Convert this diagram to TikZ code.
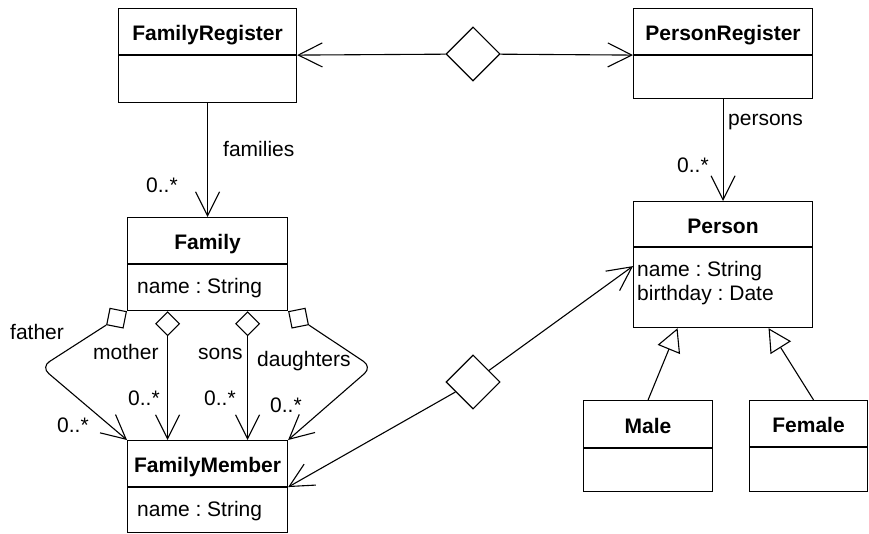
\documentclass[tikz,border=0pt]{standalone}
\usepackage{fontspec}
\setmainfont{Liberation Sans}
\frenchspacing
\usetikzlibrary{arrows.meta,shapes.geometric,calc}
\begin{document}
\begin{tikzpicture}[x=1pt,y=-1pt,
  every node/.style={font=\fontsize{21}{25}\selectfont},
  hd/.style={draw, line width=1.1pt, inner sep=0pt, text height=18pt, text depth=0pt,
             font=\fontsize{21}{25}\selectfont\bfseries},
  bd/.style={draw, line width=1.1pt, inner sep=0pt},
  lbl/.style={anchor=base west, inner sep=0pt},
  link/.style={line width=1.1pt},
  nav/.style={link, -{Straight Barb[length=24pt,width=24pt]}},
  gen/.style={link, -{Triangle[open,length=23pt,width=24pt,fill=white]}},
  bigdia/.style={diamond, draw, line width=1.1pt, fill=white, inner sep=0pt,
                 minimum width=54pt, minimum height=54pt},
  smalldia/.style={diamond, draw, line width=1.1pt, fill=white, inner sep=0pt,
                   minimum width=24pt, minimum height=24pt}
]
\useasboundingbox (0,0) rectangle (869,534);

% ---------- classes ----------
\node[hd, minimum width=178pt, minimum height=46pt, anchor=north west] (frH) at (118,8) {FamilyRegister};
\node[bd, minimum width=178pt, minimum height=47pt, anchor=north] (frB) at (frH.south) {};

\node[hd, minimum width=179pt, minimum height=46pt, anchor=north west] (prH) at (633,8) {PersonRegister};
\node[bd, minimum width=179pt, minimum height=43pt, anchor=north] (prB) at (prH.south) {};

\node[hd, minimum width=160pt, minimum height=46pt, anchor=north west] (famH) at (127,217) {Family};
\node[bd, minimum width=160pt, minimum height=46pt, anchor=north] (famB) at (famH.south) {};
\node[lbl] (famA) at (137,294) {name : String};

\node[hd, minimum width=160pt, minimum height=46pt, anchor=north west] (fmH) at (127,440) {FamilyMember};
\node[bd, minimum width=160pt, minimum height=45pt, anchor=north] (fmB) at (fmH.south) {};
\node[lbl] (fmA) at (137,516) {name : String};

\node[hd, minimum width=179pt, minimum height=45pt, anchor=north west] (perH) at (633,201) {Person};
\node[bd, minimum width=179pt, minimum height=80pt, anchor=north] (perB) at (perH.south) {};
\node[lbl] (perA1) at (637,277) {name : String};
\node[lbl] (perA2) at (637,301) {birthday : Date};

\node[hd, minimum width=129pt, minimum height=47pt, anchor=north west] (maleH) at (583,400) {Male};
\node[bd, minimum width=129pt, minimum height=43pt, anchor=north] (maleB) at (maleH.south) {};

\node[hd, minimum width=118pt, minimum height=46pt, anchor=north west] (femH) at (749,400) {Female};
\node[bd, minimum width=118pt, minimum height=44pt, anchor=north] (femB) at (femH.south) {};

% ---------- registers ----------
\node[bigdia] (regDia) at (473,54) {};
\draw[nav] (regDia) -- (frH.south east);
\draw[nav] (regDia) -- (prH.south west);

\draw[nav] (frB.south) -- (famH.north);
\node[lbl] (famRole) at (223,157) {families};
\node[lbl] (famMult) at (146,193) {0..*};

\draw[nav] (prB.south) -- (perH.north);
\node[lbl] (perRole) at (728,126) {persons};
\node[lbl] (perMult) at (677,173) {0..*};

% ---------- family roles ----------
\node[smalldia, rotate=33.7, anchor=east] (fatherDia) at (famB.south west) {};
\node[smalldia, anchor=north] (motherDia) at ([xshift=-40pt]famB.south) {};
\node[smalldia, anchor=north] (sonsDia) at ([xshift=40pt]famB.south) {};
\node[smalldia, rotate=-33.7, anchor=west] (daughtersDia) at (famB.south east) {};

\coordinate (fatherBend) at (41,367);
\coordinate (daughtersBend) at (372,367);

\draw[nav, rounded corners=10pt] (fatherDia.west) -- (fatherBend) -- (fmH.north west);
\draw[nav] (motherDia.south) -- (motherDia.south |- fmH.north);
\draw[nav] (sonsDia.south) -- (sonsDia.south |- fmH.north);
\draw[nav, rounded corners=10pt] (daughtersDia.east) -- (daughtersBend) -- (fmH.north east);

\node[lbl] (fatherRole) at (10,339) {father};
\node[lbl] (motherRole) at (93,359) {mother};
\node[lbl] (sonsRole) at (198,359) {sons};
\node[lbl] (daughtersRole) at (257,366) {daughters};
\node[lbl] (fatherMult) at (57,432) {0..*};
\node[lbl] (motherMult) at (128,405) {0..*};
\node[lbl] (sonsMult) at (204,405) {0..*};
\node[lbl] (daughtersMult) at (270,412) {0..*};

% ---------- member / person ----------
\node[bigdia] (memberDia) at (473,382) {};
\draw[nav] (memberDia) -- (fmH.south east);
\draw[nav] (memberDia) -- ([yshift=-19pt]perB.north west);

% ---------- generalisation ----------
\draw[gen] (maleH.north) -- ([xshift=-45.5pt]perB.south);
\draw[gen] ([xshift=5pt]femH.north) -- ([xshift=45.5pt]perB.south);
\end{tikzpicture}
\end{document}
